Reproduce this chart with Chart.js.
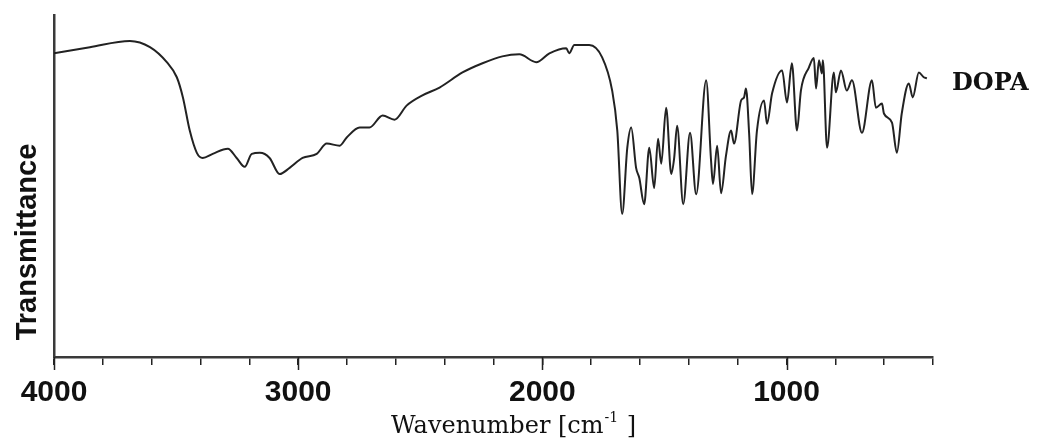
<!DOCTYPE html>
<html>
<head>
<meta charset="utf-8">
<script src="https://cdn.jsdelivr.net/npm/chart.js@4"></script>
<style>
    html, body { margin: 0; padding: 0; background: #fff; }
    #wrap { width: 1041px; height: 438px; }
</style>
</head>
<body>
<div id="wrap"><canvas id="chartIR"></canvas></div>
<script>
// Espectro IR de DOPA

// numero de onda (cm-1)
var numeroOnda = [
    4000, 3853, 3689, 3607, 3538, 3497, 3472, 3444, 3415, 3391, 3350, 3288, 3252, 3219, 3190,
    3157, 3117, 3076, 3035, 2982, 2924, 2883, 2830, 2802, 2748, 2708, 2654, 2605, 2556, 2491,
    2421, 2327, 2245, 2164, 2094, 2025, 1971, 1902, 1890, 1869, 1808, 1755, 1714, 1693, 1673,
    1652, 1636, 1616, 1603, 1583, 1562, 1542, 1526, 1513, 1493, 1472, 1460, 1448, 1423, 1395,
    1370, 1329, 1309, 1301, 1284, 1268, 1248, 1227, 1215, 1186, 1174, 1166, 1153, 1141, 1121,
    1092, 1080, 1059, 1018, 998, 978, 957, 941, 908, 888, 879, 867, 855, 851, 834,
    806, 798, 777, 753, 732, 691, 650, 634, 609, 601, 568, 548, 528, 499, 483,
    458, 438, 425
];

// transmitancia (unidades arbitrarias, 0-100)
var transmitancia = [
    88.8, 90.6, 92.4, 90.6, 86.2, 81.8, 75.9, 66.2, 59.7, 58.2, 59.4, 60.9, 58.2, 55.6, 59.4,
    59.7, 58.2, 53.5, 55.3, 58.2, 59.4, 62.4, 61.8, 64.1, 67.1, 67.1, 70.6, 69.4, 73.5, 76.5,
    78.8, 83.2, 85.9, 87.9, 88.5, 86.2, 88.8, 90.3, 88.8, 91.2, 91.2, 87.6, 77.9, 66.2, 41.8,
    61.2, 67.1, 55.3, 52.4, 44.7, 61.2, 49.4, 63.8, 56.5, 72.9, 53.5, 58.2, 67.6, 44.7, 65.6,
    47.6, 80.9, 57.4, 50.6, 61.8, 47.9, 58.8, 66.2, 62.4, 75.0, 75.9, 78.5, 65.3, 47.6, 66.2,
    75.0, 68.2, 77.1, 83.8, 74.4, 85.9, 66.2, 77.9, 84.7, 87.4, 78.5, 86.8, 82.9, 86.8, 61.2,
    83.2, 77.4, 83.8, 77.9, 80.9, 65.6, 80.9, 72.9, 74.1, 71.2, 68.5, 59.7, 71.2, 80.0, 75.9,
    83.2, 81.8, 81.5
];

// etiquetas del eje x (marcas mayores)
var etiquetasX = [4000, 3000, 2000, 1000];

var puntos = numeroOnda.map(function (w, i) {
    return { x: w, y: transmitancia[i] };
});

// Textos que Chart.js no sabe dibujar (superindice, rotacion, etiqueta DOPA)
// y las marcas mayores del eje x, un poco mas largas
var textosExtra = {
    id: 'textosExtra',
    afterDraw: function (chart) {
        var ctx = chart.ctx;
        var ejeX = chart.scales.x;
        var abajo = chart.chartArea.bottom;
        ctx.save();

        ctx.strokeStyle = '#222';
        ctx.lineWidth = 1.5;
        etiquetasX.forEach(function (v) {
            var px = Math.round(ejeX.getPixelForValue(v)) + 0.5;
            ctx.beginPath();
            ctx.moveTo(px, abajo);
            ctx.lineTo(px, abajo + 13);
            ctx.stroke();
        });

        ctx.fillStyle = '#111';

        // titulo eje y
        ctx.save();
        ctx.translate(36, 242);
        ctx.rotate(-Math.PI / 2);
        ctx.font = 'bold 29px "Liberation Sans", Arial, sans-serif';
        ctx.textAlign = 'center';
        ctx.textBaseline = 'alphabetic';
        ctx.fillText('Transmittance', 0, 0);
        ctx.restore();

        // titulo eje x con superindice
        ctx.textBaseline = 'alphabetic';
        ctx.textAlign = 'left';
        var x = 391, base = 433;
        ctx.font = '24px "DejaVu Serif", serif';
        var t1 = 'Wavenumber [cm';
        ctx.fillText(t1, x, base);
        x += ctx.measureText(t1).width + 1;
        ctx.font = '14px "DejaVu Serif", serif';
        ctx.fillText('-1', x, base - 11);
        x += ctx.measureText('-1').width + 1;
        ctx.font = '24px "DejaVu Serif", serif';
        ctx.fillText(' ]', x, base);

        // nombre de la muestra
        ctx.font = 'bold 24px "DejaVu Serif", serif';
        ctx.fillText('DOPA', 952, 90);
        ctx.restore();
    }
};

new Chart(document.getElementById('chartIR'), {
    type: 'line',
    data: {
        datasets: [{
            label: 'DOPA',
            data: puntos,
            borderColor: '#222',
            borderWidth: 2,
            pointRadius: 0,
            cubicInterpolationMode: 'monotone',
            fill: false
        }]
    },
    options: {
        responsive: true,
        maintainAspectRatio: false,
        animation: false,
        layout: {
            padding: { top: 15, right: 108, left: 0, bottom: 0 }
        },
        plugins: {
            legend: { display: false },
            tooltip: { enabled: false }
        },
        scales: {
            x: {
                type: 'linear',
                reverse: true,
                min: 400,
                max: 4000,
                afterFit: function (scale) { scale.height = 81; },
                border: { color: '#3a3a3a', width: 2.5 },
                grid: {
                    drawOnChartArea: false,
                    color: '#222',
                    lineWidth: 1.5,
                    tickLength: 8
                },
                ticks: {
                    stepSize: 200,
                    autoSkip: false,
                    maxRotation: 0,
                    padding: 10,
                    color: '#111',
                    font: { family: '"Liberation Sans", Arial, sans-serif', size: 30, weight: 'bold' },
                    callback: function (v) {
                        return etiquetasX.indexOf(v) >= 0 ? String(v) : '';
                    }
                }
            },
            y: {
                min: 0,
                max: 100,
                afterFit: function (scale) { scale.width = 54; },
                border: { color: '#3a3a3a', width: 2.5 },
                grid: { display: false },
                ticks: { display: false }
            }
        }
    },
    plugins: [textosExtra]
});
</script>
</body>
</html>
